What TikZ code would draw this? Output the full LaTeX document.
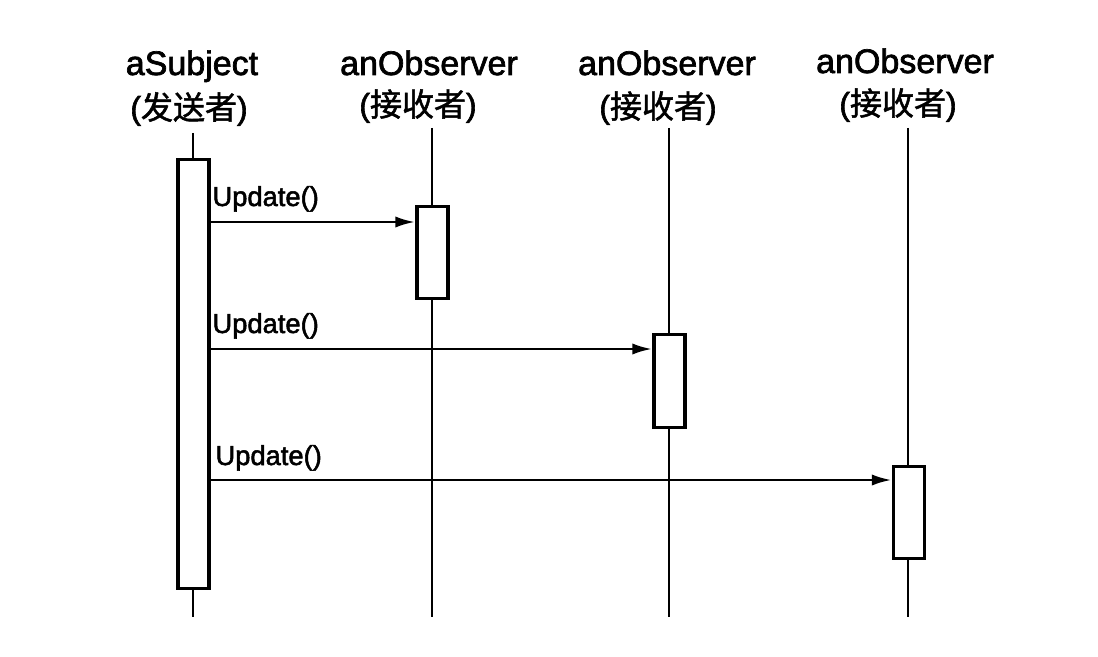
\documentclass[tikz,border=0pt]{standalone}
\usepackage{fontspec}
\setmainfont{Liberation Sans}[FakeBold=2]
\newfontfamily\cjk{Noto Sans CJK SC}[FakeBold=1.5]
\usetikzlibrary{arrows.meta}
\tikzset{every picture/.style={line width=0.75pt}}

\begin{document}
\begin{tikzpicture}[x=0.75pt,y=0.75pt,yscale=-1,xscale=1,
  lifeline/.style={line width=1.9pt},
  actbox/.style={draw,line width=2.6pt,fill=white,minimum width=23.25pt,inner sep=0pt,anchor=north},
  msg/.style={line width=2.2pt,-{Latex[length=15pt,width=8.5pt]}},
  objname/.style={font=\fontsize{25.5}{30}\selectfont,inner sep=0pt,anchor=base},
  objrole/.style={font=\fontsize{24}{28}\selectfont,inner sep=0pt},
  msglabel/.style={font=\fontsize{20.5}{24}\selectfont,inner sep=0pt,anchor=base west}]
%set diagram left start at 0, and has height of 656
\useasboundingbox (0,0) rectangle (1098,656);
\fill[white] (0,0) rectangle (1098,656);

% Text Node
\node[objname] (subjName) at (192,75) {aSubject};
\node[objrole] (subjRole) at (189,109) {({\cjk 发送者})};
% Text Node
\node[objname] (obsAName) at (429,75) {anObserver};
\node[objrole] (obsARole) at (418,106) {({\cjk 接收者})};
% Text Node
\node[objname] (obsBName) at (667,75) {anObserver};
\node[objrole] (obsBRole) at (658,108) {({\cjk 接收者})};
% Text Node
\node[objname] (obsCName) at (905,73) {anObserver};
\node[objrole] (obsCRole) at (898,105) {({\cjk 接收者})};

%Straight Lines
\coordinate (subjTop) at (193,133);
\coordinate (subjEnd) at (193,617);
\draw[lifeline] (subjTop) -- (subjEnd);
\coordinate (obsATop) at (432,128);
\coordinate (obsAEnd) at (432,617);
\draw[lifeline] (obsATop) -- (obsAEnd);
\coordinate (obsBTop) at (669,128);
\coordinate (obsBEnd) at (669,617);
\draw[lifeline] (obsBTop) -- (obsBEnd);
\coordinate (obsCTop) at (908,128);
\coordinate (obsCEnd) at (908,617);
\draw[lifeline] (obsCTop) -- (obsCEnd);

%Shape: Rectangle
\node[actbox,minimum height=321.75pt] (subjAct) at (193.5,158) {};
%Shape: Rectangle
\node[actbox,minimum height=69pt] (obsAAct) at (432.5,205) {};
%Shape: Rectangle
\node[actbox,minimum height=69.75pt] (obsBAct) at (669.5,333) {};
%Shape: Rectangle
\node[actbox,minimum height=69pt] (obsCAct) at (909,465) {};

%Straight Lines
\coordinate (msgA) at (0,222);
\draw[msg] (subjAct.east |- msgA) -- (obsAAct.west |- msgA);
\coordinate (msgB) at (0,349);
\draw[msg] (subjAct.east |- msgB) -- (obsBAct.west |- msgB);
\coordinate (msgC) at (0,480);
\draw[msg] (subjAct.east |- msgC) -- (obsCAct.west |- msgC);

% Text Node
\node[msglabel] (updA) at (212,206) {Update()};
% Text Node
\node[msglabel] (updB) at (212,333) {Update()};
% Text Node
\node[msglabel] (updC) at (215,465) {Update()};

\end{tikzpicture}
\end{document}
